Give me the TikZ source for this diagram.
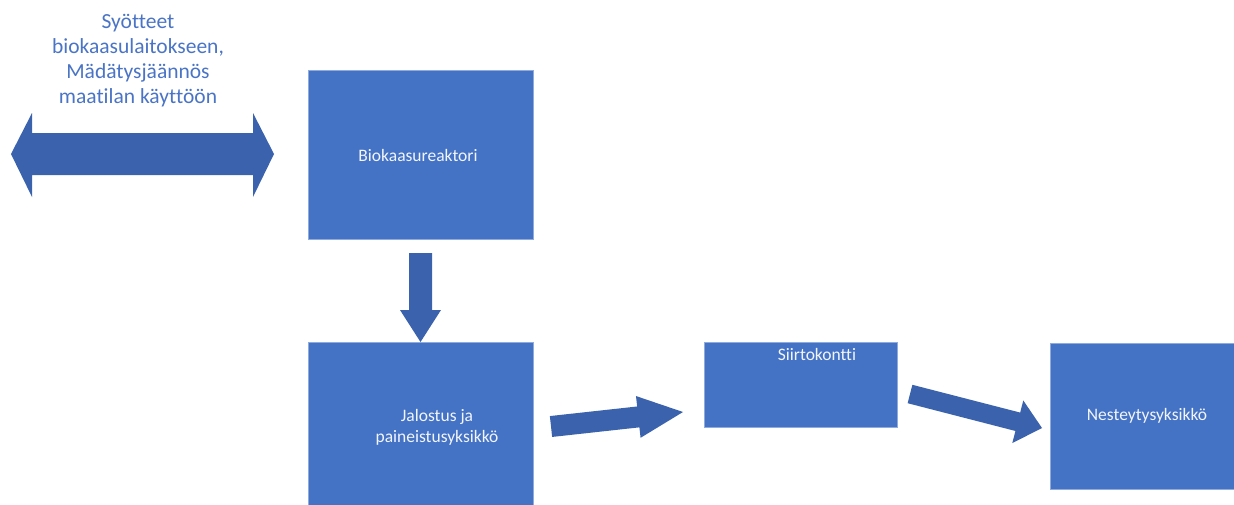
\documentclass[tikz,border=0pt]{standalone}
\usepackage{fontspec}
\setmainfont{Carlito}[Ligatures=NoCommon]
\usetikzlibrary{calc}
\definecolor{boxblue}{HTML}{4472C4}
\definecolor{boxline}{HTML}{8FAADC}
\definecolor{arrblue}{HTML}{3B63AD}
\definecolor{capblue}{HTML}{4A74C6}
\definecolor{boxtext}{HTML}{F2F5FB}
\tikzset{
  unitbox/.style={fill=boxblue, draw=boxline, line width=0.8pt},
  boxlabel/.style={text=boxtext, font=\fontsize{17.5}{21}\selectfont, align=center, inner sep=0pt},
  arrowfill/.style={fill=arrblue},
}
% block arrow: tail, tip, shaft half width, head half width, head length
\newcommand\blockarr[5]{%
  \coordinate (hb) at ($(#2)!#5!(#1)$);
  \fill[arrowfill] ($(#1)!#3!90:(#2)$) -- ($(hb)!#3!90:(#2)$) -- ($(hb)!#4!90:(#2)$) -- (#2)
     -- ($(hb)!#4!-90:(#2)$) -- ($(hb)!#3!-90:(#2)$) -- ($(#1)!#3!-90:(#2)$) -- cycle;}
\begin{document}
\begin{tikzpicture}[x=1pt,y=-1pt]
\useasboundingbox (0,0) rectangle (1234,504);
\fill[white] (0,0) rectangle (1234,504);
% boxes
\path[unitbox] (308,70) rectangle (533,239);
\coordinate (bioS) at (420.5,239);
\path[unitbox] (308,342) rectangle (533,508);
\coordinate (jalN) at (420.5,342);
\path[unitbox] (704,342) rectangle (897,427);
\path[unitbox] (1050,343) rectangle (1240,489);
% labels
\node[boxlabel] (biot) at (418,155) {Biokaasureaktori};
\node[boxlabel] (jalt) at (437,427.5) {Jalostus ja\\paineistusyksikkö};
\node[boxlabel] (siit) at (817,354) {Siirtokontti};
\node[boxlabel] (nest) at (1147,416) {Nesteytysyksikkö};
\node[text=capblue, font=\fontsize{21.5}{25}\selectfont, align=center, inner sep=0pt] (cap) at (138,61)
  {Syötteet\\biokaasulaitokseen,\\Mädätysjäännös\\maatilan käyttöön};
% double arrow
\coordinate (dl) at (11,154);
\coordinate (dr) at (274,154);
\fill[arrowfill] (dl) -- ($(dl)+(21,-41)$) -- ($(dl)+(21,-21)$) -- ($(dr)+(-21,-21)$) -- ($(dr)+(-21,-41)$)
  -- (dr) -- ($(dr)+(-21,43)$) -- ($(dr)+(-21,21)$) -- ($(dl)+(21,21)$) -- ($(dl)+(21,43)$) -- cycle;
% down arrow
\coordinate (a1t) at ($(bioS)+(0,14)$);
\blockarr{a1t}{jalN}{11.5pt}{20.5pt}{32pt}
% arrow 2
\coordinate (a2t) at (551,426.5);
\coordinate (a2h) at (683,412);
\blockarr{a2t}{a2h}{10.5pt}{21pt}{45pt}
% arrow 3
\coordinate (a3t) at (910,394);
\coordinate (a3h) at (1042,428);
\blockarr{a3t}{a3h}{9.5pt}{22pt}{25pt}
\end{tikzpicture}
\end{document}
